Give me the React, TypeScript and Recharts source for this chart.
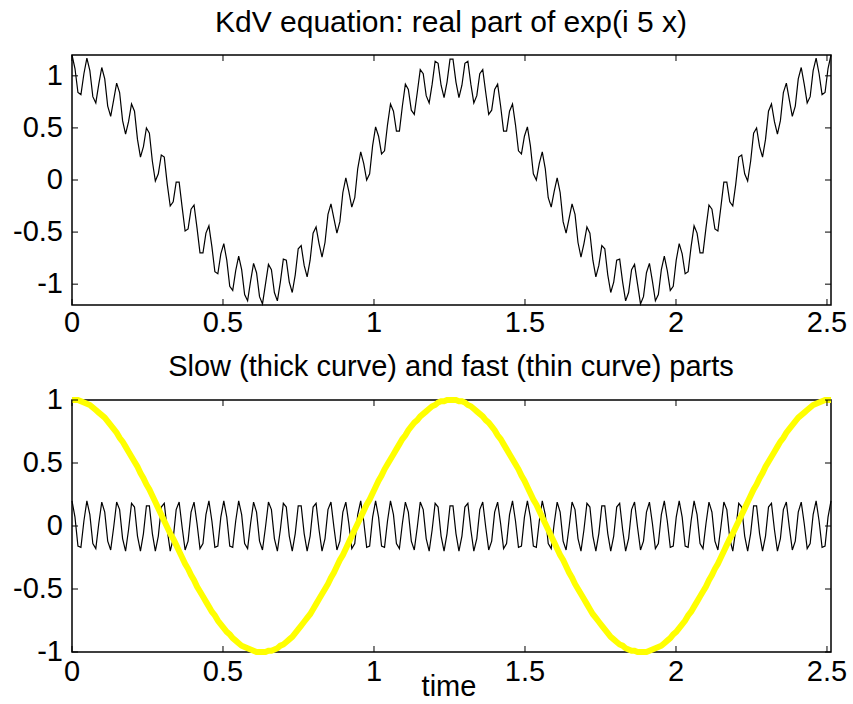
import { LineChart, Line, XAxis, YAxis, ReferenceArea } from "recharts";

// time runs from 0 to 0.8*pi, 256 samples
const T_END = 2.5133;
const N = 256;

const X_TICKS = [0, 0.5, 1, 1.5, 2, 2.5];
const Y_TICKS = [-1, -0.5, 0, 0.5, 1];

// top panel: the full signal
const TOTAL = [
  1.2, 1.07, 0.84, 0.82, 1.02, 1.17, 1.05, 0.8, 0.74, 0.92,
  1.08, 0.97, 0.71, 0.61, 0.77, 0.93, 0.84, 0.57, 0.44, 0.56,
  0.73, 0.66, 0.39, 0.22, 0.32, 0.5, 0.45, 0.18, -0.01, 0.06,
  0.24, 0.22, -0.04, -0.25, -0.21, -0.02, -0.02, -0.26, -0.49, -0.47,
  -0.28, -0.24, -0.46, -0.7, -0.7, -0.51, -0.44, -0.64, -0.88, -0.9,
  -0.71, -0.61, -0.77, -1.02, -1.06, -0.87, -0.73, -0.86, -1.1, -1.16,
  -0.97, -0.8, -0.89, -1.12, -1.19, -1.0, -0.81, -0.86, -1.08, -1.16,
  -0.98, -0.76, -0.77, -0.98, -1.08, -0.91, -0.66, -0.63, -0.82, -0.93,
  -0.77, -0.51, -0.45, -0.61, -0.74, -0.6, -0.33, -0.23, -0.37, -0.51,
  -0.4, -0.12, 0.02, -0.11, -0.26, -0.17, 0.11, 0.27, 0.16, 0,
  0.06, 0.33, 0.51, 0.42, 0.25, 0.28, 0.53, 0.73, 0.66, 0.47,
  0.47, 0.71, 0.92, 0.87, 0.67, 0.63, 0.84, 1.06, 1.02, 0.81,
  0.74, 0.92, 1.14, 1.12, 0.91, 0.79, 0.94, 1.16,
  1.16, 0.94, 0.79, 0.91, 1.12, 1.14, 0.92, 0.74,
  0.81, 1.02, 1.06, 0.84, 0.63, 0.67, 0.87, 0.92, 0.71, 0.47,
  0.47, 0.66, 0.73, 0.53, 0.28, 0.25, 0.42, 0.51, 0.33, 0.06,
  0, 0.16, 0.27, 0.11, -0.17, -0.26, -0.11, 0.02, -0.12, -0.4,
  -0.51, -0.37, -0.23, -0.33, -0.6, -0.74, -0.61, -0.45, -0.51, -0.77,
  -0.93, -0.82, -0.63, -0.66, -0.91, -1.08, -0.98, -0.77, -0.76, -0.98,
  -1.16, -1.08, -0.86, -0.81, -1.0, -1.19, -1.12, -0.89, -0.8, -0.97,
  -1.16, -1.1, -0.86, -0.73, -0.87, -1.06, -1.02, -0.77, -0.61, -0.71,
  -0.9, -0.88, -0.64, -0.44, -0.51, -0.7, -0.7, -0.46, -0.24, -0.28,
  -0.47, -0.49, -0.26, -0.02, -0.02, -0.21, -0.25, -0.04, 0.22, 0.24,
  0.06, -0.01, 0.18, 0.45, 0.5, 0.32, 0.22, 0.39, 0.66, 0.73,
  0.56, 0.44, 0.57, 0.84, 0.93, 0.77, 0.61, 0.71, 0.97, 1.08,
  0.92, 0.74, 0.8, 1.05, 1.17, 1.02, 0.82, 0.84, 1.07, 1.2,
];

// bottom panel: slow part (thick yellow)
const SLOW = [
  1, 1, 1, 0.99, 0.98, 0.97, 0.96, 0.94, 0.92, 0.9,
  0.88, 0.86, 0.83, 0.8, 0.77, 0.74, 0.7, 0.67, 0.63, 0.59,
  0.55, 0.51, 0.47, 0.42, 0.38, 0.33, 0.29, 0.24, 0.19, 0.14,
  0.09, 0.04, -0.01, -0.06, -0.1, -0.15, -0.2, -0.25, -0.3, -0.34,
  -0.39, -0.43, -0.48, -0.52, -0.56, -0.6, -0.64, -0.68, -0.71, -0.75,
  -0.78, -0.81, -0.84, -0.86, -0.89, -0.91, -0.93, -0.95, -0.96, -0.97,
  -0.98, -0.99, -1, -1, -1, -1, -0.99, -0.99, -0.98, -0.97,
  -0.95, -0.94, -0.92, -0.9, -0.88, -0.85, -0.82, -0.79, -0.76, -0.73,
  -0.7, -0.66, -0.62, -0.58, -0.54, -0.5, -0.46, -0.41, -0.37, -0.32,
  -0.27, -0.23, -0.18, -0.13, -0.08, -0.03, 0.02, 0.07, 0.12, 0.17,
  0.21, 0.26, 0.31, 0.36, 0.4, 0.45, 0.49, 0.53, 0.57, 0.61,
  0.65, 0.69, 0.72, 0.76, 0.79, 0.82, 0.84, 0.87, 0.89, 0.91,
  0.93, 0.95, 0.96, 0.98, 0.99, 0.99, 1, 1,
  1, 1, 0.99, 0.99, 0.98, 0.96, 0.95, 0.93,
  0.91, 0.89, 0.87, 0.84, 0.82, 0.79, 0.76, 0.72, 0.69, 0.65,
  0.61, 0.57, 0.53, 0.49, 0.45, 0.4, 0.36, 0.31, 0.26, 0.21,
  0.17, 0.12, 0.07, 0.02, -0.03, -0.08, -0.13, -0.18, -0.23, -0.27,
  -0.32, -0.37, -0.41, -0.46, -0.5, -0.54, -0.58, -0.62, -0.66, -0.7,
  -0.73, -0.76, -0.79, -0.82, -0.85, -0.88, -0.9, -0.92, -0.94, -0.95,
  -0.97, -0.98, -0.99, -0.99, -1, -1, -1, -1, -0.99, -0.98,
  -0.97, -0.96, -0.95, -0.93, -0.91, -0.89, -0.86, -0.84, -0.81, -0.78,
  -0.75, -0.71, -0.68, -0.64, -0.6, -0.56, -0.52, -0.48, -0.43, -0.39,
  -0.34, -0.3, -0.25, -0.2, -0.15, -0.1, -0.06, -0.01, 0.04, 0.09,
  0.14, 0.19, 0.24, 0.29, 0.33, 0.38, 0.42, 0.47, 0.51, 0.55,
  0.59, 0.63, 0.67, 0.7, 0.74, 0.77, 0.8, 0.83, 0.86, 0.88,
  0.9, 0.92, 0.94, 0.96, 0.97, 0.98, 0.99, 1, 1, 1,
];

// bottom panel: fast part (thin black)
const FAST = [
  0.2, 0.07, -0.16, -0.17, 0.04, 0.2, 0.09, -0.14, -0.18, 0.02, 0.19, 0.11, -0.12, -0.19, -0.01, 0.19, 0.13,
  -0.1, -0.2, -0.03, 0.18, 0.15, -0.08, -0.2, -0.06, 0.16, 0.16, -0.06, -0.2, -0.08, 0.15, 0.18, -0.03, -0.2,
  -0.1, 0.13, 0.19, -0.01, -0.19, -0.12, 0.11, 0.19, 0.02, -0.18, -0.14, 0.09, 0.2, 0.04, -0.17, -0.16, 0.07,
  0.2, 0.07, -0.16, -0.17, 0.04, 0.2, 0.09, -0.14, -0.18, 0.02, 0.19, 0.11, -0.12, -0.19, -0.01, 0.19, 0.13,
  -0.1, -0.2, -0.03, 0.18, 0.15, -0.08, -0.2, -0.06, 0.16, 0.16, -0.06, -0.2, -0.08, 0.15, 0.18, -0.03, -0.2,
  -0.1, 0.13, 0.19, -0.01, -0.19, -0.12, 0.11, 0.19, 0.02, -0.18, -0.14, 0.09, 0.2, 0.04, -0.17, -0.16, 0.07,
  0.2, 0.07, -0.16, -0.17, 0.04, 0.2, 0.09, -0.14, -0.18, 0.02, 0.19, 0.11, -0.12, -0.19, -0.01, 0.19, 0.13,
  -0.1, -0.2, -0.03, 0.18, 0.15, -0.08, -0.2, -0.06, 0.16, 0.16, -0.06, -0.2, -0.08, 0.15, 0.18, -0.03, -0.2,
  -0.1, 0.13, 0.19, -0.01, -0.19, -0.12, 0.11, 0.19, 0.02, -0.18, -0.14, 0.09, 0.2, 0.04, -0.17, -0.16, 0.07,
  0.2, 0.07, -0.16, -0.17, 0.04, 0.2, 0.09, -0.14, -0.18, 0.02, 0.19, 0.11, -0.12, -0.19, -0.01, 0.19, 0.13,
  -0.1, -0.2, -0.03, 0.18, 0.15, -0.08, -0.2, -0.06, 0.16, 0.16, -0.06, -0.2, -0.08, 0.15, 0.18, -0.03, -0.2,
  -0.1, 0.13, 0.19, -0.01, -0.19, -0.12, 0.11, 0.19, 0.02, -0.18, -0.14, 0.09, 0.2, 0.04, -0.17, -0.16, 0.07,
  0.2, 0.07, -0.16, -0.17, 0.04, 0.2, 0.09, -0.14, -0.18, 0.02, 0.19, 0.11, -0.12, -0.19, -0.01, 0.19, 0.13,
  -0.1, -0.2, -0.03, 0.18, 0.15, -0.08, -0.2, -0.06, 0.16, 0.16, -0.06, -0.2, -0.08, 0.15, 0.18, -0.03, -0.2,
  -0.1, 0.13, 0.19, -0.01, -0.19, -0.12, 0.11, 0.19, 0.02, -0.18, -0.14, 0.09, 0.2, 0.04, -0.17, -0.16, 0.07,
  0.2,
];

const rows = TOTAL.map((v, i) => ({
  t: (i * T_END) / (N - 1),
  total: v,
  slow: SLOW[i],
  fast: FAST[i],
}));

const FONT = "'Liberation Sans', Arial, Helvetica, sans-serif";
const PLOT_W = 759;

// matlab style: ticks point inward, on all four sides
function makeXTick(plotH: number, labelDy: number) {
  return (props: any) => {
    const { x, y, payload } = props;
    return (
      <g>
        <line x1={x} y1={y} x2={x} y2={y - 6} stroke="#000" />
        <line x1={x} y1={y - plotH} x2={x} y2={y - plotH + 6} stroke="#000" />
        <text x={x} y={y + labelDy} textAnchor="middle" fontSize={29} fontFamily={FONT} fill="#000">
          {String(payload.value)}
        </text>
      </g>
    );
  };
}

function makeYTick() {
  return (props: any) => {
    const { x, y, payload } = props;
    return (
      <g>
        <line x1={x} y1={y} x2={x + 6} y2={y} stroke="#000" />
        <line x1={x + PLOT_W} y1={y} x2={x + PLOT_W - 6} y2={y} stroke="#000" />
        <text x={x - 9} y={y + 9} textAnchor="end" fontSize={29} fontFamily={FONT} fill="#000">
          {String(payload.value)}
        </text>
      </g>
    );
  };
}

export default function App() {
  return (
    <div style={{ position: "absolute", left: 0, top: 0, width: 853, height: 704, background: "#fff" }}>
      <div style={{ position: "absolute", left: 0, top: 0 }}>
        <LineChart width={853} height={340} data={rows} margin={{ top: 55, right: 22, bottom: 0, left: 2 }}>
          <XAxis
            dataKey="t"
            type="number"
            domain={[0, T_END]}
            ticks={X_TICKS}
            interval={0}
            height={35}
            tickSize={0}
            tickMargin={0}
            tickLine={false}
            axisLine={false}
            tick={makeXTick(250, 27)}
          />
          <YAxis
            type="number"
            domain={[-1.2, 1.2]}
            ticks={Y_TICKS}
            interval={0}
            width={70}
            tickSize={0}
            tickMargin={0}
            tickLine={false}
            axisLine={false}
            tick={makeYTick()}
          />
          <ReferenceArea x1={0} x2={T_END} y1={-1.2} y2={1.2} fill="none" stroke="#000" strokeWidth={1.5} />
          <Line type="linear" dataKey="total" stroke="#000" strokeWidth={1.2} dot={false} isAnimationActive={false} />
        </LineChart>
      </div>
      <div style={{ position: "absolute", left: 0, top: 340 }}>
        <LineChart width={853} height={364} data={rows} margin={{ top: 60, right: 22, bottom: 0, left: 2 }}>
          <XAxis
            dataKey="t"
            type="number"
            domain={[0, T_END]}
            ticks={X_TICKS}
            interval={0}
            height={52}
            tickSize={0}
            tickMargin={0}
            tickLine={false}
            axisLine={false}
            tick={makeXTick(252, 29)}
          />
          <YAxis
            type="number"
            domain={[-1, 1]}
            ticks={Y_TICKS}
            interval={0}
            width={70}
            tickSize={0}
            tickMargin={0}
            tickLine={false}
            axisLine={false}
            tick={makeYTick()}
          />
          <ReferenceArea x1={0} x2={T_END} y1={-1} y2={1} fill="none" stroke="#000" strokeWidth={1.5} />
          <Line type="linear" dataKey="fast" stroke="#000" strokeWidth={1.2} dot={false} isAnimationActive={false} />
          <Line type="linear" dataKey="slow" stroke="#ffff00" strokeWidth={6} dot={false} isAnimationActive={false} />
        </LineChart>
      </div>
      <svg width={853} height={704} style={{ position: "absolute", left: 0, top: 0, pointerEvents: "none" }}>
        <text x={451} y={32} textAnchor="middle" fontSize={30} fontFamily={FONT} fill="#000">
          KdV equation: real part of exp(i 5 x)
        </text>
        <text x={451} y={376} textAnchor="middle" fontSize={29} fontFamily={FONT} fill="#000">
          Slow (thick curve) and fast (thin curve) parts
        </text>
        <text x={449} y={696} textAnchor="middle" fontSize={29} fontFamily={FONT} fill="#000">
          time
        </text>
      </svg>
    </div>
  );
}
